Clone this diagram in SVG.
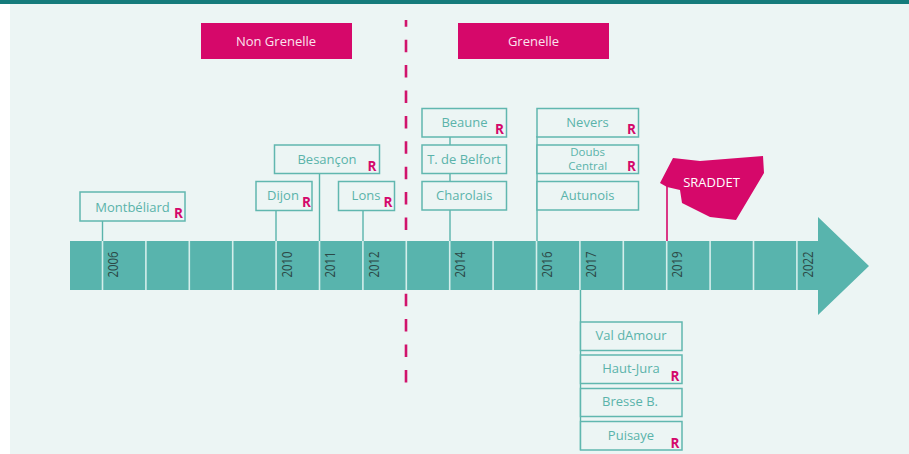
<svg xmlns="http://www.w3.org/2000/svg" width="909" height="454" viewBox="0 0 909 454">
<style>
.bg{fill:#ecf5f4}
.box{fill:#ecf5f4;stroke:#60b7af;stroke-width:1.5}
.lbl{font-family:"Open Sans","Liberation Sans",sans-serif;font-size:13px;fill:#5ab3aa;text-anchor:middle}
.lbl2{font-family:"Open Sans","Liberation Sans",sans-serif;font-size:11.5px;fill:#5ab3aa;text-anchor:middle}
.r{font-family:"Open Sans","Liberation Sans",sans-serif;font-size:13.5px;font-weight:bold;fill:#d4086b;text-anchor:middle}
.hdr{fill:#d6086a}
.hdrt{font-family:"Open Sans","Liberation Sans",sans-serif;font-size:13px;fill:#fbe3ee;text-anchor:middle}
.conn{stroke:#5ab4ab;stroke-width:1.4;fill:none}
.sep{stroke:#d4eeeb;stroke-width:1.6}
.yr{font-family:"Open Sans","Liberation Sans",sans-serif;font-size:15px;fill:#2c4947}
</style>
<rect x="0" y="0" width="909" height="454" fill="#ffffff"/>
<rect class="bg" x="10" y="4" width="899" height="450"/>
<rect x="0" y="0" width="909" height="4" fill="#157b7b"/>

<line x1="406" y1="20" x2="406" y2="383" stroke="#d0136c" stroke-width="2.6" stroke-dasharray="12.5 12.9" stroke-dashoffset="5.7"/>

<g id="header-non-grenelle">
<rect class="hdr" x="201" y="23" width="151" height="36"/>
<text class="hdrt" x="276" y="45.5">Non Grenelle</text>
</g>
<g id="header-grenelle">
<rect class="hdr" x="458" y="23" width="151" height="36"/>
<text class="hdrt" x="533.5" y="45.5">Grenelle</text>
</g>

<g id="connectors">
<line class="conn" x1="102.5" y1="220" x2="102.5" y2="241"/>
<line class="conn" x1="276" y1="210" x2="276" y2="241"/>
<line class="conn" x1="319.5" y1="173" x2="319.5" y2="241"/>
<line class="conn" x1="363" y1="210" x2="363" y2="241"/>
<line class="conn" x1="450" y1="136" x2="450" y2="241"/>
<line class="conn" x1="537" y1="136" x2="537" y2="241"/>
<line class="conn" x1="580.5" y1="290" x2="580.5" y2="450"/>
<line x1="667" y1="184" x2="667" y2="241" stroke="#d6086a" stroke-width="1.6"/>
</g>

<g id="timeline">
<polygon points="70,241 818,241 818,217 869,266 818,315 818,290 70,290" fill="#58b4ad"/>
<g class="sep">
<line x1="102.5" y1="241" x2="102.5" y2="290"/>
<line x1="145.9" y1="241" x2="145.9" y2="290"/>
<line x1="189.3" y1="241" x2="189.3" y2="290"/>
<line x1="232.7" y1="241" x2="232.7" y2="290"/>
<line x1="276.1" y1="241" x2="276.1" y2="290"/>
<line x1="319.5" y1="241" x2="319.5" y2="290"/>
<line x1="362.9" y1="241" x2="362.9" y2="290"/>
<line x1="406.3" y1="241" x2="406.3" y2="290"/>
<line x1="449.7" y1="241" x2="449.7" y2="290"/>
<line x1="493.1" y1="241" x2="493.1" y2="290"/>
<line x1="536.5" y1="241" x2="536.5" y2="290"/>
<line x1="579.9" y1="241" x2="579.9" y2="290"/>
<line x1="623.3" y1="241" x2="623.3" y2="290"/>
<line x1="666.7" y1="241" x2="666.7" y2="290"/>
<line x1="710.1" y1="241" x2="710.1" y2="290"/>
<line x1="753.5" y1="241" x2="753.5" y2="290"/>
<line x1="796.9" y1="241" x2="796.9" y2="290"/>
</g>
<text class="yr" transform="translate(118,277.5) rotate(-90) scale(0.76,1)">2006</text>
<text class="yr" transform="translate(291.5,277.5) rotate(-90) scale(0.76,1)">2010</text>
<text class="yr" transform="translate(335,277.5) rotate(-90) scale(0.76,1)">2011</text>
<text class="yr" transform="translate(378.5,277.5) rotate(-90) scale(0.76,1)">2012</text>
<text class="yr" transform="translate(465,277.5) rotate(-90) scale(0.76,1)">2014</text>
<text class="yr" transform="translate(552,277.5) rotate(-90) scale(0.76,1)">2016</text>
<text class="yr" transform="translate(595.5,277.5) rotate(-90) scale(0.76,1)">2017</text>
<text class="yr" transform="translate(682,277.5) rotate(-90) scale(0.76,1)">2019</text>
<text class="yr" transform="translate(812.5,277.5) rotate(-90) scale(0.76,1)">2022</text>
</g>

<g id="montbeliard">
<rect class="box" x="80" y="192" width="105" height="29"/>
<text class="lbl" x="132.5" y="211.5">Montbéliard</text>
<text class="r" x="178.5" y="217.5">R</text>
</g>
<g id="dijon">
<rect class="box" x="256" y="181.5" width="56" height="29"/>
<text class="lbl" x="283" y="200">Dijon</text>
<text class="r" x="306.5" y="206.5">R</text>
</g>
<g id="besancon">
<rect class="box" x="274.5" y="145" width="105" height="28.5"/>
<text class="lbl" x="327" y="164">Besançon</text>
<text class="r" x="372" y="170.5">R</text>
</g>
<g id="lons">
<rect class="box" x="338.5" y="181.5" width="56" height="29"/>
<text class="lbl" x="366" y="200">Lons</text>
<text class="r" x="388" y="206.5">R</text>
</g>

<g id="beaune">
<rect class="box" x="422" y="108.5" width="84.5" height="28.5"/>
<text class="lbl" x="464.5" y="127">Beaune</text>
<text class="r" x="499.5" y="134">R</text>
</g>
<g id="belfort">
<rect class="box" x="422" y="145" width="84.5" height="28.5"/>
<text class="lbl" x="464" y="163.5">T. de Belfort</text>
</g>
<g id="charolais">
<rect class="box" x="422" y="181.5" width="84.5" height="28.5"/>
<text class="lbl" x="464.3" y="200">Charolais</text>
</g>

<g id="nevers">
<rect class="box" x="537" y="108.5" width="101.5" height="28.5"/>
<text class="lbl" x="587.5" y="127">Nevers</text>
<text class="r" x="631.5" y="134">R</text>
</g>
<g id="doubs-central">
<rect class="box" x="537" y="145" width="101.5" height="28.5"/>
<text class="lbl2" x="587.7" y="155.5">Doubs</text>
<text class="lbl2" x="587.7" y="170">Central</text>
<text class="r" x="631.5" y="170.5">R</text>
</g>
<g id="autunois">
<rect class="box" x="537" y="181.5" width="101.5" height="28.5"/>
<text class="lbl" x="587.5" y="200">Autunois</text>
</g>

<g id="sraddet">
<polygon points="660,183 673,158 700,161 763,156 764,173 736,220 710,217 682,203 680,190 667,187" fill="#d6086a"/>
<text x="711.5" y="186.5" font-family="Open Sans, Liberation Sans, sans-serif" font-size="13" fill="#ffffff" text-anchor="middle">SRADDET</text>
</g>

<g id="val-damour">
<rect class="box" x="580.5" y="322" width="101.5" height="28.5"/>
<text class="lbl" x="631" y="339.5">Val dAmour</text>
</g>
<g id="haut-jura">
<rect class="box" x="580.5" y="355" width="101.5" height="28.5"/>
<text class="lbl" x="631" y="373">Haut-Jura</text>
<text class="r" x="675" y="381">R</text>
</g>
<g id="bresse">
<rect class="box" x="580.5" y="388.5" width="101.5" height="28"/>
<text class="lbl" x="630" y="406">Bresse B.</text>
</g>
<g id="puisaye">
<rect class="box" x="580.5" y="421.5" width="101.5" height="28.5"/>
<text class="lbl" x="631" y="439.5">Puisaye</text>
<text class="r" x="675" y="447.5">R</text>
</g>
</svg>
